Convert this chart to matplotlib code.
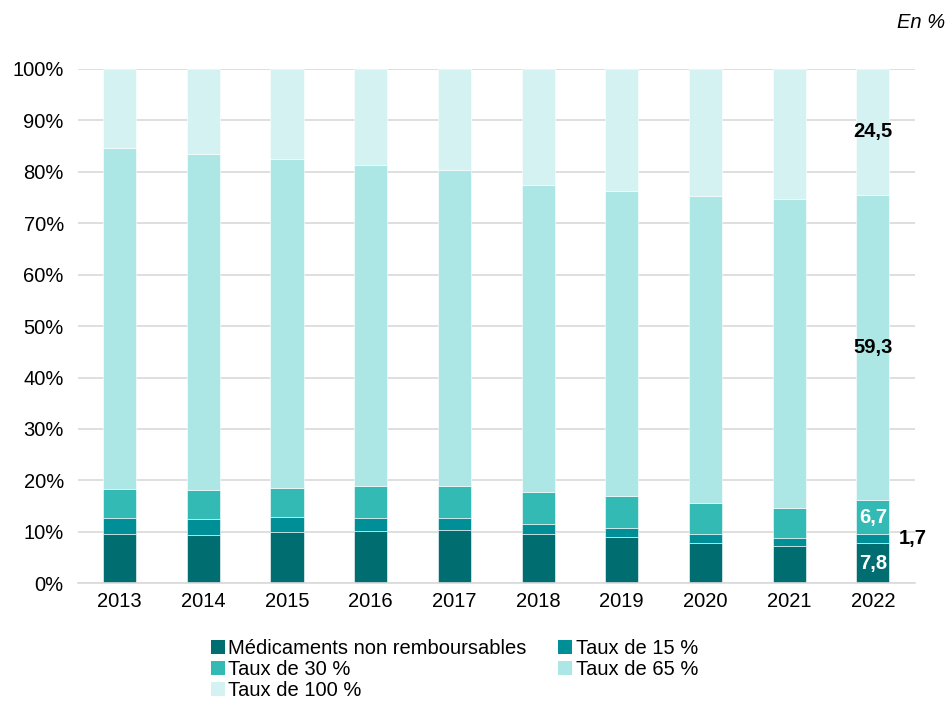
import matplotlib
import matplotlib.pyplot as plt
import numpy as np
from matplotlib.patches import Patch

matplotlib.use("Agg")

plt.rcParams["font.family"] = ["Liberation Sans", "DejaVu Sans"]

YEARS = ["2013", "2014", "2015", "2016", "2017", "2018", "2019", "2020", "2021", "2022"]
NON_REMB = [9.5, 9.3, 10.0, 10.2, 10.3, 9.5, 8.9, 7.8, 7.2, 7.8]
TAUX_15 = [3.1, 3.1, 2.8, 2.4, 2.3, 2.1, 1.9, 1.7, 1.55, 1.7]
TAUX_30 = [5.75, 5.8, 5.8, 6.4, 6.4, 6.2, 6.2, 6.05, 5.95, 6.7]
TAUX_65 = [66.35, 65.2, 63.8, 62.4, 61.4, 59.7, 59.3, 59.8, 60.1, 59.3]
TAUX_100 = [15.3, 16.6, 17.6, 18.6, 19.6, 22.5, 23.7, 24.7, 25.2, 24.5]

SERIES = [
    ("Médicaments non remboursables", NON_REMB, "#006D71"),
    ("Taux de 15 %", TAUX_15, "#008F96"),
    ("Taux de 30 %", TAUX_30, "#33BAB5"),
    ("Taux de 65 %", TAUX_65, "#ADE7E5"),
    ("Taux de 100 %", TAUX_100, "#D5F2F2"),
]

FS = 14.5

fig = plt.figure(figsize=(9.49, 7.01), dpi=100)
ax = fig.add_axes([0.0819, 0.168, 0.882, 0.7336])

x = np.arange(len(YEARS))
bottom = np.zeros(len(YEARS))
bottoms = []
for name, vals, color in SERIES:
    vals = np.array(vals)
    ax.bar(x, vals, width=0.395, bottom=bottom, color=color,
           edgecolor="white", linewidth=0.4, zorder=2, label=name)
    bottoms.append(bottom.copy())
    bottom = bottom + vals

ax.set_xlim(-0.5, len(YEARS) - 0.5)
ax.set_ylim(0, 100)
ax.set_yticks(np.arange(0, 101, 10))
ax.set_yticklabels([f"{v}%" for v in range(0, 101, 10)], fontsize=FS)
ax.set_xticks(x)
ax.set_xticklabels(YEARS, fontsize=FS)
ax.tick_params(length=0, pad=6)
ax.tick_params(axis="y", pad=10)
ax.grid(axis="y", color="#D9D9D9", linewidth=1.2, zorder=0)
for s in ["top", "right", "left"]:
    ax.spines[s].set_visible(False)
ax.spines["bottom"].set_color("#D9D9D9")
ax.spines["bottom"].set_linewidth(1.2)

# labels on the 2022 bar
i = len(YEARS) - 1
lab = lambda v: f"{v:.1f}".replace(".", ",")
ax.text(i, bottoms[0][i] + NON_REMB[i] / 2, lab(NON_REMB[i]), ha="center", va="center",
        color="white", fontsize=FS, fontweight="bold", zorder=3)
ax.text(i + 0.48, bottoms[1][i] + TAUX_15[i] / 2, lab(TAUX_15[i]), ha="center", va="center",
        color="black", fontsize=FS, fontweight="bold", zorder=3)
ax.text(i, bottoms[2][i] + TAUX_30[i] / 2, lab(TAUX_30[i]), ha="center", va="center",
        color="white", fontsize=FS, fontweight="bold", zorder=3)
ax.text(i, bottoms[3][i] + TAUX_65[i] / 2, lab(TAUX_65[i]), ha="center", va="center",
        color="black", fontsize=FS, fontweight="bold", zorder=3)
ax.text(i, bottoms[4][i] + TAUX_100[i] / 2, lab(TAUX_100[i]), ha="center", va="center",
        color="black", fontsize=FS, fontweight="bold", zorder=3)

fig.text(0.996, 0.968, "En %", ha="right", va="center", fontsize=FS, fontstyle="italic")

# row-major order in a 2-column legend
order = [0, 2, 4, 1, 3]
handles = [Patch(facecolor=SERIES[k][2], edgecolor="none") for k in order]
labels = [SERIES[k][0] for k in order]
fig.legend(handles, labels, ncol=2, loc="upper left", bbox_to_anchor=(0.222, 0.089),
           frameon=False, fontsize=FS, handlelength=0.7, handleheight=0.7,
           handletextpad=0.15, columnspacing=1.6, labelspacing=0.12,
           borderaxespad=0, borderpad=0)

fig.savefig("out.png", dpi=100, facecolor="white")
